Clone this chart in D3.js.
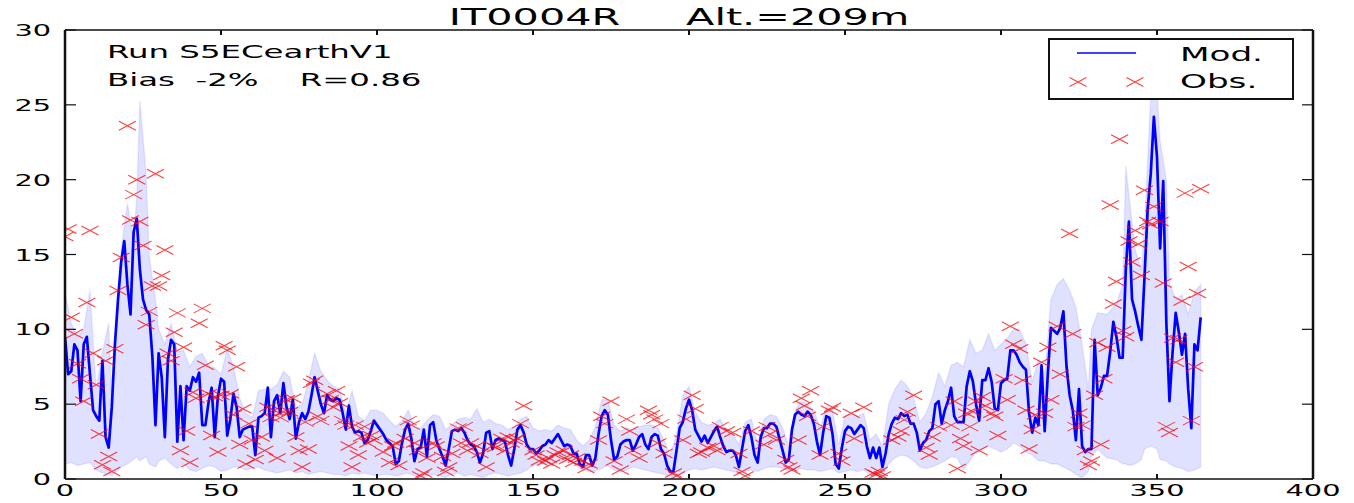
<!DOCTYPE html>
<html>
<head>
<meta charset="utf-8">
<script src="https://cdn.jsdelivr.net/npm/d3@7"></script>
<style>
  html, body { margin: 0; padding: 0; background: #fff; }
  svg { display: block; }
  text { font-family: "DejaVu Sans", sans-serif; fill: #000; white-space: pre; }
</style>
</head>
<body>
<svg id="chart" width="1354" height="503"></svg>
<script>
// ---- data -------------------------------------------------------------
const stationTitle = "IT0004R     Alt.=209m";
const runLabel = "Run S5ECearthV1";
const statsLabel = "Bias  -2%    R=0.86";
const legendLabels = ["Mod.", "Obs."];
const xTicks = [0, 50, 100, 150, 200, 250, 300, 350, 400];
const yTicks = [0, 5, 10, 15, 20, 25, 30];

// modelled daily values, day 0 .. 364
const modDaily = [
  9.5, 7.0, 7.2, 9.0, 8.6, 5.2, 9.0, 9.5, 7.0, 4.6,
  4.2, 3.9, 7.9, 2.8, 2.1, 4.8, 9.0, 12.0, 14.5, 15.9,
  13.0, 11.0, 16.5, 17.4, 14.0, 12.0, 11.3, 11.0, 8.2, 3.6,
  8.4, 6.8, 2.8, 8.0, 9.3, 9.0, 2.5, 6.2, 2.6, 6.2,
  5.9, 6.8, 6.5, 7.1, 3.6, 3.6, 5.1, 6.1, 2.8, 5.5,
  6.7, 6.5, 2.9, 4.0, 5.7, 4.8, 2.8, 3.3, 3.4, 3.5,
  3.5, 1.6, 4.1, 4.2, 4.4, 6.1, 2.8, 5.2, 5.6, 4.4,
  6.4, 4.8, 4.0, 5.3, 2.7, 3.8, 4.4, 4.0, 4.5, 5.6,
  6.8, 5.9, 5.0, 4.4, 5.6, 5.3, 5.2, 5.4, 5.3, 4.4,
  3.3, 4.9, 3.5, 3.1, 3.2, 3.1, 2.4, 2.6, 3.2, 3.9,
  3.6, 3.3, 3.0, 2.6, 2.4, 2.2, 1.0, 1.2, 2.4, 3.3,
  3.7, 2.7, 1.2, 2.0, 2.1, 3.3, 1.5, 3.6, 3.8, 2.6,
  2.0, 1.5, 0.9, 2.0, 3.2, 3.3, 3.2, 3.4, 3.1, 2.6,
  2.3, 2.2, 1.8, 1.1, 1.7, 3.1, 3.2, 2.0, 2.6, 2.7,
  2.6, 2.5, 1.6, 0.9, 2.0, 3.3, 3.6, 3.1, 2.3, 2.0,
  2.0, 1.7, 1.9, 2.2, 2.3, 2.6, 2.4, 2.7, 3.0, 2.6,
  2.2, 2.3, 2.2, 1.7, 1.7, 1.0, 0.8, 1.6, 1.6, 0.9,
  1.4, 3.0, 4.2, 4.6, 4.3, 2.6, 1.3, 1.5, 2.3, 2.5,
  2.6, 2.6, 1.9, 2.3, 2.8, 3.0, 2.3, 2.0, 2.8, 3.0,
  2.9, 2.0, 1.7, 0.9, 0.5, 0.5, 1.9, 3.4, 3.8, 4.7,
  5.3, 4.6, 3.3, 2.9, 2.5, 2.9, 2.4, 2.8, 3.2, 3.5,
  2.8, 2.2, 1.8, 1.9, 1.9, 1.6, 0.8, 2.0, 3.2, 3.6,
  2.8, 1.6, 1.1, 2.8, 3.4, 3.4, 3.7, 3.7, 3.5, 2.7,
  1.9, 1.1, 1.3, 3.3, 4.3, 4.5, 4.3, 4.2, 4.5, 4.3,
  3.7, 2.5, 1.6, 3.1, 4.2, 4.1, 3.0, 1.0, 0.7, 2.1,
  3.2, 3.5, 3.4, 3.0, 3.3, 3.6, 3.4, 2.2, 1.4, 2.1,
  1.4, 2.1, 0.8, 1.7, 3.0, 3.7, 4.1, 4.0, 4.4, 4.2,
  4.3, 3.7, 3.7, 3.1, 1.9, 2.4, 2.6, 3.2, 3.4, 5.0,
  5.2, 3.7, 4.6, 5.2, 6.1, 4.2, 3.8, 3.8, 3.8, 6.2,
  7.2, 6.5, 5.0, 3.9, 6.6, 6.6, 7.4, 6.5, 4.7, 4.6,
  6.4, 6.6, 6.7, 8.6, 8.6, 8.3, 7.8, 7.5, 7.3, 4.4,
  3.1, 4.1, 3.6, 7.6, 3.2, 7.0, 10.1, 9.9, 9.7, 10.1,
  11.2, 7.5, 5.6, 4.6, 2.6, 6.0, 2.2, 1.8, 2.0, 2.0,
  9.3, 5.6, 6.1, 6.9, 6.9, 8.5, 10.5, 9.5, 8.1, 8.1,
  14.0, 17.2, 12.0, 11.2, 10.2, 9.3, 13.5, 18.0, 20.4, 24.2,
  21.5, 15.4, 19.9, 10.4, 5.2, 8.5, 11.1, 9.8, 8.3, 9.7,
  6.0, 3.4, 9.0, 8.6, 10.8
];

// observed values: day and concentration
const obsDay = [
  0, 1, 2, 3, 4, 5, 6, 7, 8, 9, 10, 11, 12, 13, 14, 15, 16, 17, 18, 20,
  21, 22, 23, 24, 25, 26, 27, 28, 29, 30, 31, 32, 33, 34, 35, 36, 37, 38, 39, 40,
  41, 42, 43, 44, 45, 46, 47, 48, 49, 50, 51, 52, 53, 54, 55, 56, 57, 58, 59, 60,
  61, 63, 64, 65, 66, 67, 68, 69, 70, 71, 72, 73, 74, 75, 76, 77, 78, 79, 80, 81,
  82, 84, 85, 86, 87, 88, 89, 90, 91, 92, 93, 94, 95, 96, 97, 98, 99, 102, 104, 105,
  106, 107, 109, 110, 111, 112, 113, 114, 115, 116, 118, 119, 121, 122, 123, 124, 126, 127, 128, 129,
  130, 132, 133, 135, 137, 138, 140, 141, 142, 143, 144, 145, 146, 147, 150, 151, 152, 154, 155, 156,
  157, 158, 160, 161, 162, 163, 164, 166, 167, 168, 171, 172, 173, 175, 176, 178, 180, 181, 182, 184,
  187, 188, 189, 190, 191, 192, 195, 196, 198, 199, 201, 202, 203, 204, 206, 208, 209, 210, 212, 214,
  216, 217, 218, 220, 224, 225, 226, 228, 231, 232, 233, 235, 236, 237, 238, 239, 242, 243, 245, 246,
  248, 249, 252, 253, 256, 259, 260, 261, 262, 265, 267, 268, 269, 270, 272, 276, 277, 278, 280, 284,
  285, 286, 287, 288, 289, 290, 291, 292, 293, 294, 295, 297, 298, 299, 301, 302, 303, 304, 306, 307,
  308, 309, 310, 311, 313, 314, 315, 316, 318, 319, 322, 323, 324, 325, 326, 327, 328, 329, 330, 331,
  332, 333, 334, 335, 336, 337, 338, 339, 340, 341, 342, 343, 344, 345, 346, 347, 348, 349, 351, 352,
  353, 354, 355, 356, 357, 358, 359, 360, 361, 362, 363, 364
];
const obsVal = [
  16.2, 16.7, 10.8, 9.7, 7.7, 6.7, 5.2, 11.8, 16.6, 8.4, 6.3, 3.0, 0.95, 7.9, 1.5, 0.5, 8.7, 12.6, 14.8, 23.6,
  17.3, 19.0, 20.0, 17.2, 15.6, 10.3, 11.2, 12.9, 20.4, 12.9, 13.6, 15.3, 8.4, 7.9, 9.8, 11.1, 1.9, 8.8, 3.2, 1.1,
  5.8, 5.4, 10.4, 11.4, 7.6, 5.7, 2.9, 5.5, 1.8, 5.6, 8.9, 8.6, 5.7, 4.3, 7.5, 2.3, 4.7, 1.0, 3.7, 2.6,
  1.3, 2.8, 1.9, 4.8, 4.1, 4.6, 1.4, 4.1, 4.5, 5.3, 4.5, 5.4, 2.8, 1.9, 0.8, 3.8, 2.0, 6.4, 6.6, 4.2,
  3.9, 5.7, 5.3, 4.8, 5.9, 5.1, 3.9, 3.6, 2.2, 0.8, 3.6, 1.6, 2.8, 3.5, 2.4, 2.9, 2.6, 1.8, 1.1, 2.2,
  2.4, 0.9, 2.7, 3.9, 3.6, 2.4, 1.9, 0.2, 0.4, 1.4, 2.4, 2.2, 1.5, 0.5, 0.8, 1.7, 3.4, 2.4, 3.5, 1.9,
  2.4, 2.2, 1.7, 0.8, 2.2, 2.1, 2.7, 1.9, 2.8, 2.4, 2.6, 2.7, 3.7, 4.9, 1.9, 1.6, 1.2, 1.2, 1.4, 1.0,
  1.6, 1.8, 1.9, 1.3, 1.6, 1.1, 1.4, 1.2, 0.7, 1.0, 2.6, 4.2, 3.7, 5.2, 1.2, 0.6, 4.0, 3.2, 1.9, 1.4,
  4.6, 4.3, 4.0, 2.4, 3.7, 1.7, 0.4, 0.2, 2.6, 4.0, 5.6, 4.7, 1.7, 1.8, 2.1, 2.2, 1.9, 3.5, 3.2, 3.1,
  1.7, 0.5, 0.2, 3.2, 2.3, 3.5, 3.0, 2.6, 1.3, 0.8, 0.6, 2.6, 5.4, 4.9, 4.2, 5.9, 1.6, 3.5, 4.6, 4.8,
  1.7, 1.2, 4.4, 2.7, 4.8, 0.4, 0.3, 0.5, 0.2, 2.6, 2.8, 3.2, 3.95, 4.5, 5.6, 2.1, 1.6, 2.8, 3.5, 3.6,
  5.2, 0.7, 2.7, 2.2, 4.4, 3.5, 4.5, 5.2, 1.9, 5.5, 4.9, 4.4, 4.2, 2.9, 6.7, 5.3, 10.2, 9.0, 8.7, 6.6,
  4.6, 2.0, 3.3, 4.3, 7.8, 4.4, 8.8, 5.3, 10.2, 7.0, 16.4, 9.7, 3.5, 4.4, 3.6, 1.9, 0.9, 1.2, 5.6, 9.1,
  2.3, 6.7, 8.8, 18.3, 11.7, 13.2, 22.7, 9.9, 9.5, 15.9, 14.5, 16.6, 15.7, 13.6, 19.3, 17.2, 17.0, 18.2, 17.2, 13.1,
  3.5, 3.1, 9.4, 7.8, 9.3, 11.9, 19.1, 14.2, 3.9, 7.5, 12.4, 19.4
];

// spread of the model ensemble: sampled days with lower and upper bounds
const bandDay = [
  0, 2, 4, 6, 8, 10, 12, 14, 15, 16, 18, 20, 22, 23, 24, 26, 27, 29, 30, 32,
  34, 36, 38, 40, 42, 44, 46, 48, 50, 52, 54, 56, 58, 60, 62, 64, 66, 68, 70, 72,
  74, 76, 78, 80, 82, 84, 86, 88, 90, 92, 94, 96, 98, 100, 102, 104, 106, 108, 110, 112,
  114, 116, 118, 120, 122, 124, 126, 128, 130, 132, 134, 136, 138, 140, 142, 144, 146, 148, 150, 152,
  154, 156, 158, 160, 162, 164, 166, 168, 170, 172, 174, 176, 178, 180, 182, 184, 186, 188, 190, 192,
  194, 196, 198, 200, 202, 204, 206, 208, 210, 212, 214, 216, 218, 220, 222, 224, 226, 228, 230, 232,
  234, 236, 238, 240, 242, 244, 246, 248, 250, 252, 254, 256, 258, 260, 262, 264, 266, 268, 270, 272,
  274, 276, 278, 280, 282, 284, 286, 288, 290, 292, 294, 296, 298, 300, 302, 304, 306, 308, 310, 312,
  314, 316, 318, 320, 322, 324, 326, 328, 329, 331, 334, 337, 339, 340, 341, 343, 345, 346, 348, 350,
  351, 353, 354, 356, 358, 360, 362, 364
];
const bandLo = [
  1.0, 1.1, 0.9, 1.0, 1.1, 0.6, 0.4, 0.3, 0.2, 0.4, 0.8, 1.0, 1.3, 1.5, 1.2, 1.5, 1.0, 0.8, 1.2, 1.4,
  1.0, 0.7, 1.0, 0.6, 0.5, 0.7, 0.9, 0.8, 0.5, 0.6, 0.8, 0.8, 0.6, 0.7, 0.8, 0.6, 0.5, 0.4, 0.5, 0.6,
  0.4, 0.5, 0.3, 0.4, 0.5, 0.4, 0.3, 0.3, 0.2, 0.4, 0.3, 0.4, 0.3, 0.2, 0.3, 0.3, 0.2, 0.3, 0.4, 0.2,
  0.1, 0.2, 0.3, 0.2, 0.1, 0.3, 0.4, 0.2, 0.3, 0.2, 0.1, 0.3, 0.4, 0.3, 0.2, 0.3, 0.4, 0.6, 0.9, 1.0,
  1.0, 1.1, 1.2, 1.1, 1.2, 0.9, 0.6, 0.5, 0.5, 0.7, 0.9, 0.6, 0.5, 0.6, 0.8, 0.7, 0.6, 0.5, 0.4, 0.3,
  0.1, 0.2, 0.4, 0.6, 0.7, 0.6, 0.7, 0.8, 0.7, 0.6, 0.5, 0.4, 0.5, 0.6, 0.5, 0.7, 0.8, 0.8, 0.7, 0.5,
  0.6, 0.7, 0.6, 0.6, 0.5, 0.6, 0.7, 0.4, 0.5, 0.6, 0.5, 0.6, 0.3, 0.2, 0.2, 1.0, 1.4, 1.6, 1.5, 1.2,
  0.8, 0.7, 0.8, 1.0, 1.2, 1.5, 1.4, 0.6, 1.2, 1.8, 2.0, 2.2, 2.0, 1.8, 2.0, 2.4, 2.2, 1.8, 1.6, 1.2,
  1.2, 1.0, 1.0, 0.8, 0.6, 0.3, 0.1, 0.5, 1.5, 2.0, 1.4, 1.3, 1.0, 1.0, 0.9, 1.0, 1.3, 2.0, 2.2, 2.0,
  1.3, 1.2, 1.0, 0.8, 0.7, 0.5, 0.6, 0.8
];
const bandHi = [
  12.5, 10.4, 9.5, 10.0, 12.6, 6.0, 8.5, 10.4, 5.0, 8.2, 15.3, 18.4, 16.0, 18.8, 25.3, 20.4, 14.9, 12.0, 10.0, 9.0,
  10.4, 8.5, 8.6, 7.5, 8.2, 8.4, 7.6, 7.4, 7.0, 8.7, 7.5, 5.4, 4.4, 4.1, 5.9, 6.0, 6.0, 6.3, 7.2, 6.8,
  4.8, 5.0, 6.5, 8.4, 7.2, 6.6, 6.2, 6.0, 4.4, 5.9, 4.2, 3.9, 4.6, 4.6, 4.4, 3.9, 3.5, 3.9, 4.6, 3.5,
  3.4, 3.9, 4.3, 4.2, 3.3, 3.6, 4.0, 4.1, 4.0, 4.7, 3.8, 4.0, 3.7, 3.6, 3.3, 3.5, 4.0, 4.2, 3.4, 3.2,
  3.3, 3.2, 3.6, 3.4, 3.3, 2.6, 2.2, 2.6, 3.5, 5.3, 5.3, 3.6, 3.2, 3.4, 3.3, 3.5, 3.6, 3.6, 3.4, 2.6,
  1.6, 3.0, 5.6, 6.2, 4.5, 3.8, 3.6, 3.7, 4.0, 3.2, 3.0, 2.3, 3.8, 4.0, 2.4, 4.0, 4.3, 4.2, 3.4, 2.2,
  4.6, 5.2, 5.0, 4.6, 3.4, 4.8, 4.6, 2.3, 4.2, 4.4, 4.2, 4.4, 2.6, 3.0, 2.2, 5.0, 6.0, 6.6, 6.2, 5.4,
  3.8, 4.4, 5.5, 7.1, 6.2, 7.6, 7.8, 7.5, 9.3, 8.4, 8.6, 9.7, 8.6, 9.0, 9.4, 10.0, 10.0, 9.0, 6.5, 8.0,
  7.0, 12.0, 13.0, 13.4, 12.6, 11.5, 9.0, 6.0, 10.0, 11.1, 11.0, 11.7, 13.0, 20.9, 19.0, 15.3, 14.0, 17.0, 25.6, 26.0,
  22.6, 20.0, 13.1, 12.0, 12.3, 11.0, 12.5, 13.0
];

// ---- layout -----------------------------------------------------------
const W = 1354, H = 503;
const plot = { left: 65, right: 1313, top: 30, bottom: 479 };
const SX = 1.8; // horizontal stretch of the lettering

const svg = d3.select("#chart");
const x = d3.scaleLinear().domain([0, 400]).range([plot.left, plot.right]);
const y = d3.scaleLinear().domain([0, 30]).range([plot.bottom, plot.top]);

svg.append("defs").append("clipPath").attr("id", "plotClip")
  .append("rect")
  .attr("x", plot.left).attr("y", plot.top)
  .attr("width", plot.right - plot.left).attr("height", plot.bottom - plot.top);

const g = svg.append("g").attr("clip-path", "url(#plotClip)");

// ensemble spread
const bandData = bandDay.map((d, i) => ({ d, lo: bandLo[i], hi: bandHi[i] }));
g.append("path")
  .datum(bandData)
  .attr("d", d3.area().x(p => x(p.d)).y0(p => y(p.lo)).y1(p => y(p.hi)))
  .attr("fill", "#0000ff").attr("fill-opacity", 0.12)
  .attr("stroke", "#0000ff").attr("stroke-opacity", 0.08).attr("stroke-width", 1.5);

// modelled series
g.append("path")
  .datum(modDaily.map((v, i) => ({ d: i, v })))
  .attr("d", d3.line().x(p => x(p.d)).y(p => y(p.v)))
  .attr("fill", "none").attr("stroke", "#0000ff").attr("stroke-width", 2.7)
  .attr("stroke-linejoin", "round");

// observations as crosses
const crossPath = "M-8.5,-4.5L8.5,4.5M-8.5,4.5L8.5,-4.5";
g.selectAll("path.obs")
  .data(obsDay.map((d, i) => ({ d, v: obsVal[i] })))
  .join("path").attr("class", "obs")
  .attr("transform", p => `translate(${x(p.d)},${y(p.v)})`)
  .attr("d", crossPath)
  .attr("fill", "none").attr("stroke", "#ff0000").attr("stroke-opacity", 0.75)
  .attr("stroke-width", 1.1);

// ---- frame and ticks --------------------------------------------------
const frame = svg.append("g").attr("stroke", "#111").attr("fill", "none");
frame.append("line").attr("x1", plot.left).attr("x2", plot.right).attr("y1", plot.top).attr("y2", plot.top).attr("stroke-width", 1.5);
frame.append("line").attr("x1", plot.left).attr("x2", plot.right).attr("y1", plot.bottom).attr("y2", plot.bottom).attr("stroke-width", 1.5);
frame.append("line").attr("x1", plot.left).attr("x2", plot.left).attr("y1", plot.top).attr("y2", plot.bottom).attr("stroke-width", 2.5);
frame.append("line").attr("x1", plot.right).attr("x2", plot.right).attr("y1", plot.top).attr("y2", plot.bottom).attr("stroke-width", 2.5);

xTicks.forEach(t => {
  frame.append("line").attr("x1", x(t)).attr("x2", x(t)).attr("y1", plot.bottom).attr("y2", plot.bottom - 5).attr("stroke-width", 2);
  frame.append("line").attr("x1", x(t)).attr("x2", x(t)).attr("y1", plot.top).attr("y2", plot.top + 5).attr("stroke-width", 2);
});
yTicks.forEach(t => {
  frame.append("line").attr("x1", plot.left).attr("x2", plot.left + 11).attr("y1", y(t)).attr("y2", y(t)).attr("stroke-width", 1.2);
  frame.append("line").attr("x1", plot.right).attr("x2", plot.right - 11).attr("y1", y(t)).attr("y2", y(t)).attr("stroke-width", 1.2);
});

function stretchedText(parent, txt, px, py, size, anchor) {
  return parent.append("text")
    .attr("transform", `translate(${px},${py}) scale(${SX},1)`)
    .attr("text-anchor", anchor || "start")
    .attr("font-size", size)
    .text(txt);
}

const labels = svg.append("g");
xTicks.forEach(t => stretchedText(labels, String(t), x(t), 496, 16, "middle"));
yTicks.forEach(t => stretchedText(labels, String(t), 51, y(t) + 6, 16, "end"));

stretchedText(labels, stationTitle, (plot.left + plot.right) / 2 - 10, 25, 23, "middle");
stretchedText(labels, runLabel, 107, 58, 18, "start");
stretchedText(labels, statsLabel, 107, 86, 18, "start");

// ---- legend -----------------------------------------------------------
const leg = svg.append("g");
leg.append("rect").attr("x", 1049).attr("y", 39).attr("width", 244).attr("height", 60)
  .attr("fill", "#fff").attr("stroke", "#111").attr("stroke-width", 2);
leg.append("line").attr("x1", 1077).attr("x2", 1136).attr("y1", 53).attr("y2", 53)
  .attr("stroke", "#0000ff").attr("stroke-width", 1.5);
[1078, 1135].forEach(cx => {
  leg.append("path").attr("transform", `translate(${cx},82)`).attr("d", crossPath)
    .attr("fill", "none").attr("stroke", "#ff0000").attr("stroke-opacity", 0.75).attr("stroke-width", 1.1);
});
stretchedText(leg, legendLabels[0], 1180, 61, 19, "start");
stretchedText(leg, legendLabels[1], 1180, 88, 19, "start");
</script>
</body>
</html>
